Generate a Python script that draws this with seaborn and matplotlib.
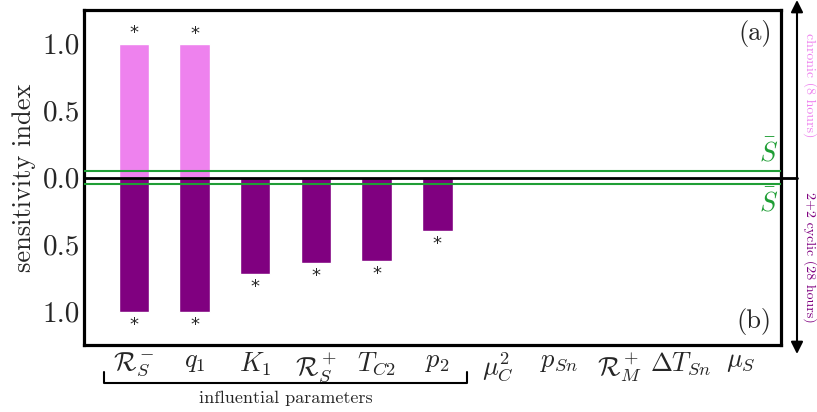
import numpy as np
import pandas as pd
import matplotlib
matplotlib.use("Agg")
import matplotlib.pyplot as plt
import matplotlib.transforms as mtrans
import seaborn as sns
from matplotlib.lines import Line2D

params = [r'$\mathcal{R}_S^-$', r'$q_1$', r'$K_1$', r'$\mathcal{R}_S^+$', r'$T_{C2}$',
          r'$p_2$', r'$\mu_C^2$', r'$p_{Sn}$', r'$\mathcal{R}_M^+$', r'$\Delta T_{Sn}$', r'$\mu_S$']
chronic = [1.0, 0.995, 0, 0, 0, 0, 0, 0, 0, 0, 0]
cyclic = [1.0, 1.0, 0.717, 0.64, 0.62, 0.40, 0.008, 0, 0, 0, 0]
chronic_sig = [True, True, False, False, False, False, False, False, False, False, False]
cyclic_sig = [True, True, True, True, True, True, False, False, False, False, False]
threshold = 0.05
ytick_vals = [1.0, 0.5, 0.0, -0.5, -1.0]
ytick_labels = ['1.0', '0.5', '0.0', '0.5', '1.0']

sns.set_style("white")
plt.rcParams['font.family'] = ['cmr10', 'DejaVu Serif']
plt.rcParams['mathtext.fontset'] = 'cm'
plt.rcParams['axes.formatter.use_mathtext'] = True

df = pd.DataFrame({'param': params, 'chronic': chronic,
                   'cyclic': [-v for v in cyclic]})

fig = plt.figure(figsize=(8.17, 4.12), dpi=100)
ax = fig.add_axes([84/817, 1-345/412, (781-84)/817, (345-10)/412])

sns.barplot(data=df, x='param', y='chronic', color='#EE82EE', saturation=1,
            width=0.5, ax=ax, order=params)
sns.barplot(data=df, x='param', y='cyclic', color='#800080', saturation=1,
            width=0.5, ax=ax, order=params)

ax.set_xlim(-0.82, 10.66)
ax.set_ylim(-1.25, 1.25)

# threshold lines
green = '#1f9e35'
ax.axhline(threshold, color=green, lw=1.5, zorder=3)
ax.axhline(-threshold, color=green, lw=1.5, zorder=3)
ax.text(10.45, threshold + 0.035, r'$\bar{S}$', color=green, fontsize=19,
        ha='center', va='bottom')
ax.text(10.45, -threshold - 0.03, r'$\bar{S}$', color=green, fontsize=19,
        ha='center', va='top')

# zero line extending beyond axes
trans = mtrans.blended_transform_factory(ax.transAxes, ax.transData)
ax.plot([0, (797-84)/697], [0, 0], color='black', lw=2, transform=trans,
        clip_on=False, zorder=4)

# significance stars
for i, (v, s) in enumerate(zip(chronic, chronic_sig)):
    if s:
        ax.annotate('*', (i, v), xytext=(0, 1), textcoords='offset points',
                    ha='center', va='bottom', fontsize=13, family='DejaVu Sans')
for i, (v, s) in enumerate(zip(cyclic, cyclic_sig)):
    if s:
        ax.annotate('*', (i, -v), xytext=(0, -16), textcoords='offset points',
                    ha='center', va='bottom', fontsize=13, family='DejaVu Sans')

ax.set_yticks(ytick_vals)
ax.set_yticklabels(ytick_labels)
ax.set_xticks(range(len(params)))
ax.set_xticklabels(params)
ax.tick_params(axis='both', direction='in', length=8, width=0.8, color='#555555')
ax.tick_params(axis='y', labelsize=21, pad=3)
ax.tick_params(axis='x', labelsize=19, pad=4)
ax.set_xlabel('')
ax.set_ylabel('sensitivity index', fontsize=19)
ax.yaxis.set_label_coords((36-84)/697, 0.4985)
for sp in ax.spines.values():
    sp.set_linewidth(2.3)
    sp.set_color('black')
    sp.set_visible(True)

ax.text(0.987, 0.97, '(a)', transform=ax.transAxes, ha='right', va='top', fontsize=19)
ax.text(0.987, 0.03, '(b)', transform=ax.transAxes, ha='right', va='bottom', fontsize=19)

# double arrow on the right
ax.annotate('', xy=(797/817, 1.0), xytext=(797/817, 1-354/412),
            xycoords='figure fraction', textcoords='figure fraction',
            arrowprops=dict(arrowstyle='<|-|>', color='black', lw=1.5,
                            mutation_scale=18, shrinkA=0, shrinkB=0))
fig.text(810/817, 1-85/412, 'chronic (8 hours)', rotation=270, color='#EE82EE',
         ha='center', va='center', fontsize=10)
fig.text(810/817, 1-257/412, '2+2 cyclic (28 hours)', rotation=270, color='#800080',
         ha='center', va='center', fontsize=10)

# bracket for influential parameters
y0, y1 = 1-383/412, 1-372/412
x0, x1 = 104/817, 467/817
fig.add_artist(Line2D([x0, x0, x1, x1], [y1, y0, y0, y1], color='black', lw=1.5,
                      transform=fig.transFigure))
fig.text((x0+x1)/2, 1-398/412, 'influential parameters', ha='center', va='center',
         fontsize=13)

fig.savefig('out.png', dpi=100)
